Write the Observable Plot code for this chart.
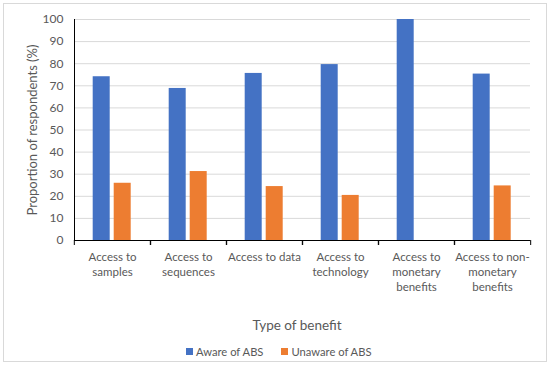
<!DOCTYPE html>
<html>
<head>
<meta charset="utf-8">
<script src="https://cdn.jsdelivr.net/npm/d3@7"></script>
<script src="https://cdn.jsdelivr.net/npm/@observablehq/plot@0.6"></script>
<style>
  html, body { margin: 0; padding: 0; background: #fff; }
  #wrap { position: relative; width: 550px; height: 367px; overflow: hidden; font-family: Lato, "Liberation Sans", sans-serif; }
  #border { position: absolute; left: 3px; top: 3px; width: 542px; height: 357px; border: 1px solid #d9d9d9; }
  #chart { position: absolute; left: 0; top: 0; }
  #xtitle { position: absolute; top: 317px; left: 0; width: 594px; text-align: center; font-size: 13.5px; color: #595959; }
  #legend { position: absolute; top: 335px; left: 186px; display: flex; }
  .lg-swatch { margin-right: 18px !important; }
  .lg-swatch > svg { margin-right: 3px !important; }
</style>
</head>
<body>
<div id="wrap">
  <div id="border"></div>
  <div id="chart"></div>
  <div id="xtitle">Type of benefit</div>
  <div id="legend"></div>
</div>
<script>
const categories = ["Access to\nsamples", "Access to\nsequences", "Access to data", "Access to\ntechnology", "Access to\nmonetary\nbenefits", "Access to non-\nmonetary\nbenefits"];
const series = ["Aware of ABS", "Unaware of ABS"];
const aware = [74.1, 68.8, 75.6, 79.6, 100, 75.3];
const unaware = [25.9, 31.2, 24.4, 20.4, 0, 24.7];
const yTicks = [0, 10, 20, 30, 40, 50, 60, 70, 80, 90, 100];
const colors = ["#4472C4", "#ED7D31"];

const data = [];
categories.forEach((c, i) => {
  data.push({category: c, series: series[0], value: aware[i]});
  data.push({category: c, series: series[1], value: unaware[i]});
});

const W = 550, H = 300, mL = 73.3, mR = 18.5, mT = 19, mB = 60;
const bw = (W - mL - mR) / categories.length;
const font = "Lato, 'Liberation Sans', sans-serif";

const chart = Plot.plot({
  width: W, height: H,
  marginLeft: mL, marginRight: mR, marginTop: mT, marginBottom: mB,
  style: {fontFamily: font, color: "#595959", background: "transparent"},
  fx: {domain: categories, padding: 0, label: null},
  x: {domain: series, paddingInner: 0.185, paddingOuter: 0.861, axis: null},
  y: {domain: [0, 100], label: null},
  color: {domain: series, range: colors},
  marks: [
    Plot.gridY(yTicks.slice(1), {stroke: "#d9d9d9", strokeOpacity: 1, strokeWidth: 1}),
    Plot.barY(data, {fx: "category", x: "series", y: "value", fill: "series"}),
    Plot.axisY(yTicks, {tickSize: 0, tickPadding: 11, fontSize: 12, fill: "#595959", label: null}),
    Plot.axisY(yTicks, {tickSize: 0, tickFormat: () => "", fontSize: 13, fill: "#595959",
      label: "Proportion of respondents (%)", labelAnchor: "center", labelArrow: "none", labelOffset: 47}),
    Plot.ruleY([0], {stroke: "#000", strokeWidth: 1}),
    Plot.frame({anchor: "left", facetAnchor: "left", stroke: "#000"}),
    Plot.axisFx({anchor: "bottom", tickSize: 5, dx: -bw / 2, tickFormat: () => "", label: null, stroke: "#000"}),
    Plot.axisFx({anchor: "bottom", tickSize: 5, dx: bw / 2, tickFormat: () => "", label: null, stroke: "#000"}),
    Plot.axisFx({anchor: "bottom", tickSize: 0, tickPadding: 10, fontSize: 11.5, lineHeight: 1.3, fill: "#595959", label: null})
  ]
});
document.getElementById("chart").appendChild(chart);

const legend = Plot.legend({
  color: {domain: series, range: colors},
  className: "lg",
  swatchSize: 7, swatchWidth: 7, swatchHeight: 7,
  style: {fontFamily: font, fontSize: "11.2px", color: "#595959"}
});
document.getElementById("legend").appendChild(legend);
</script>
</body>
</html>
